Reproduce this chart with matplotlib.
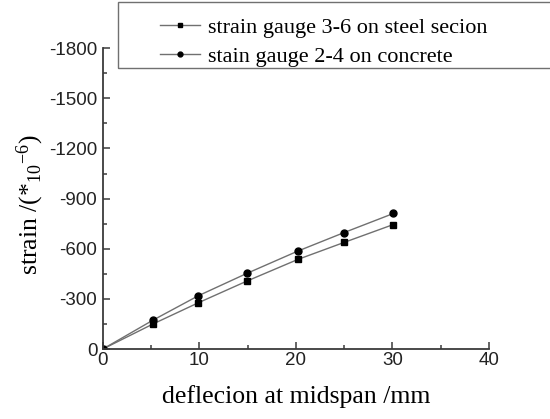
import matplotlib
matplotlib.use('Agg')
import matplotlib.pyplot as plt
from matplotlib.patches import Rectangle
from matplotlib.ticker import MultipleLocator

# deflection at midspan (mm) and strain (*1e-6)
x_steel = [0, 5.2, 9.9, 14.9, 20.2, 25.0, 30.1]
y_steel = [0, -150, -277, -406, -536, -638, -745]
x_conc = [0, 5.2, 9.9, 14.9, 20.2, 25.0, 30.1]
y_conc = [0, -173, -319, -452, -586, -697, -811]

lab_steel = 'strain gauge 3-6 on steel secion'
lab_conc = 'stain gauge 2-4 on concrete'

plt.rcParams['mathtext.fontset'] = 'stix'
plt.rcParams['axes.unicode_minus'] = False
serif = 'Liberation Serif'
sans = 'Liberation Sans'

fig = plt.figure(figsize=(5.5, 4.19), dpi=100)
ax = fig.add_axes([0.187, 0.167, 0.702, 0.718])

ax.plot(x_steel, y_steel, color='#707070', lw=1.0, marker='s', ms=4.5,
        mfc='black', mec='black', label=lab_steel)
ax.plot(x_conc, y_conc, color='#707070', lw=1.0, marker='o', ms=5,
        mfc='black', mec='black', label=lab_conc)

ax.set_xlim(0, 40)
ax.set_ylim(0, -1800)
ax.xaxis.set_major_locator(MultipleLocator(10))
ax.xaxis.set_minor_locator(MultipleLocator(5))
ax.yaxis.set_major_locator(MultipleLocator(300))
ax.yaxis.set_minor_locator(MultipleLocator(150))

for s in ['top', 'right']:
    ax.spines[s].set_visible(False)
for s in ['left', 'bottom']:
    ax.spines[s].set_color('#3a3a3a')
    ax.spines[s].set_linewidth(1.3)

ax.tick_params(which='both', direction='in', color='#3a3a3a', width=1.1)
ax.tick_params(which='major', length=5, labelsize=13.5)
ax.tick_params(axis='y', pad=4)
ax.tick_params(axis='x', pad=2)
ax.tick_params(which='minor', length=3)
for t in ax.get_xticklabels() + ax.get_yticklabels():
    t.set_fontfamily(sans)
    t.set_color('#222222')

ax.set_xlabel('deflecion at midspan /mm', fontfamily=serif, fontsize=18.5, va='top')
ax.xaxis.set_label_coords(0.5, -0.12)
ax.set_ylabel(r'strain /(*$\mathregular{_{10}{}^{-6}}$)', fontfamily=serif, fontsize=18.5, va='center')
ax.yaxis.set_label_coords(-0.189, 0.478)

# legend frame runs off the right edge of the picture
fig.patches.append(Rectangle((118 / 550, 1 - 68 / 419), 0.9, 66 / 419,
                             transform=fig.transFigure, fill=False,
                             edgecolor='#707070', lw=1.0))
fig.legend(loc='upper left', bbox_to_anchor=(160 / 550, 1 - 17 / 419),
           frameon=False, prop={'family': serif, 'size': 16},
           handlelength=1.8, handletextpad=0.35, labelspacing=0.38,
           borderaxespad=0, borderpad=0, markerscale=0.7)

fig.savefig('out.png', dpi=100)
